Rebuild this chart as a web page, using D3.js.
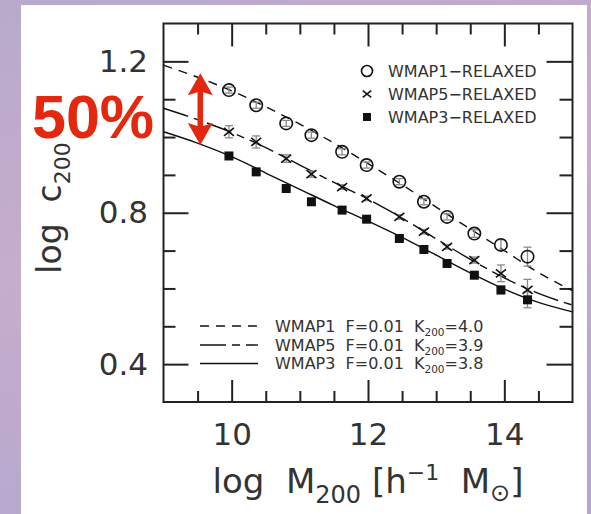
<!DOCTYPE html>
<html><head><meta charset="utf-8">
<script src="https://cdn.jsdelivr.net/npm/d3@7"></script>
<style>
html,body{margin:0;padding:0;background:#fff;}
svg{display:block;}
</style></head><body>
<div id="chart"></div>
<script>
// Concentration–mass relation of relaxed haloes in three cosmologies,
// simulation bins (markers) against the model curves.
const massBins  = [9.96, 10.36, 10.80, 11.17, 11.62, 11.98, 12.46, 12.82, 13.16, 13.56, 13.95, 14.34];
const wmap1Conc = [1.124, 1.084, 1.036, 1.005, 0.961, 0.926, 0.882, 0.829, 0.789, 0.745, 0.715, 0.684];
const wmap1Err  = [0.008, 0.008, 0.008, 0.008, 0.008, 0.008, 0.008, 0.008, 0.008, 0.010, 0.014, 0.025];
const wmap5Conc = [1.014, 0.987, 0.943, 0.902, 0.868, 0.838, 0.789, 0.750, 0.710, 0.675, 0.640, 0.596];
const wmap5Err  = [0.016, 0.016, 0.010, 0.008, 0.006, 0.006, 0.006, 0.006, 0.006, 0.008, 0.022, 0.028];
const wmap3Conc = [0.950, 0.908, 0.864, 0.829, 0.807, 0.783, 0.732, 0.703, 0.666, 0.635, 0.596, 0.570];
const wmap3Err  = [0.005, 0.005, 0.005, 0.005, 0.005, 0.005, 0.005, 0.005, 0.005, 0.006, 0.010, 0.021];

const modelMass  = [9.0, 9.5, 10.0, 10.5, 11.0, 11.5, 12.0, 12.5, 13.0, 13.5, 14.0, 14.5, 15.0];
const wmap1Model = [1.190, 1.158, 1.122, 1.080, 1.034, 0.984, 0.930, 0.874, 0.815, 0.757, 0.700, 0.642, 0.594];
const wmap5Model = [1.076, 1.046, 1.012, 0.972, 0.926, 0.880, 0.836, 0.786, 0.731, 0.677, 0.628, 0.587, 0.556];
const wmap3Model = [1.014, 0.984, 0.948, 0.905, 0.862, 0.819, 0.778, 0.735, 0.688, 0.641, 0.598, 0.563, 0.538];

const seriesNames = ["WMAP1\u2212RELAXED", "WMAP5\u2212RELAXED", "WMAP3\u2212RELAXED"];
const modelNames  = ["WMAP1", "WMAP5", "WMAP3"];
const modelF      = ["0.01", "0.01", "0.01"];
const modelK      = ["4.0", "3.9", "3.8"];

const xMajorTicks = [10, 12, 14];
const xMinorTicks = [9.5, 10.5, 11, 11.5, 12.5, 13, 13.5, 14.5];
const yMajorTicks = [0.4, 0.8, 1.2];
const yMinorTicks = [0.5, 0.6, 0.7, 0.9, 1.0, 1.1];
const spreadLabel = "50%";

const W = 591, H = 514;
const plot = {left: 163.5, right: 572.5, top: 23.5, bottom: 402};
const FONT = "'DejaVu Sans', Verdana, sans-serif";
const INK = "#333";

const svg = d3.select("#chart").append("svg")
  .attr("width", W).attr("height", H)
  .attr("viewBox", `0 0 ${W} ${H}`);

// slide backdrop and white panel
const defs = svg.append("defs");
const grad = defs.append("linearGradient").attr("id", "bg")
  .attr("x1", 0).attr("y1", 0).attr("x2", 0.3).attr("y2", 1);
grad.append("stop").attr("offset", 0).attr("stop-color", "#b8aacb");
grad.append("stop").attr("offset", 0.5).attr("stop-color", "#c6adcc");
grad.append("stop").attr("offset", 1).attr("stop-color", "#b5a8cf");
svg.append("rect").attr("width", W).attr("height", H).attr("fill", "url(#bg)");
svg.append("rect").attr("x", 21).attr("y", 5).attr("width", 566).attr("height", H - 5).attr("fill", "#fff");

const x = d3.scaleLinear().domain([9, 15]).range([plot.left, plot.right]);
const y = d3.scaleLinear().domain([0.3, 1.3]).range([plot.bottom, plot.top]);

// axes: ticks point inward on all four sides
function styleAxis(g) {
  g.select(".domain").remove();
  g.selectAll(".tick line").attr("stroke", "#222").attr("stroke-width", 2);
  g.selectAll(".tick text").attr("fill", INK).style("font-family", FONT).style("font-size", "31px");
}
const axes = svg.append("g");
axes.append("g").attr("transform", `translate(0,${plot.bottom})`)
  .call(d3.axisBottom(x).tickValues(xMajorTicks).tickSize(-22).tickPadding(21).tickFormat(d3.format("d"))).call(styleAxis);
axes.append("g").attr("transform", `translate(0,${plot.bottom})`)
  .call(d3.axisBottom(x).tickValues(xMinorTicks).tickSize(-11).tickFormat("")).call(styleAxis);
axes.append("g").attr("transform", `translate(0,${plot.top})`)
  .call(d3.axisTop(x).tickValues(xMajorTicks).tickSize(-23).tickFormat("")).call(styleAxis);
axes.append("g").attr("transform", `translate(0,${plot.top})`)
  .call(d3.axisTop(x).tickValues(xMinorTicks).tickSize(-11).tickFormat("")).call(styleAxis);
axes.append("g").attr("transform", `translate(${plot.left},0)`)
  .call(d3.axisLeft(y).tickValues(yMajorTicks).tickSize(-25).tickPadding(15.5).tickFormat(d3.format(".1f"))).call(styleAxis);
axes.append("g").attr("transform", `translate(${plot.left},0)`)
  .call(d3.axisLeft(y).tickValues(yMinorTicks).tickSize(-12).tickFormat("")).call(styleAxis);
axes.append("g").attr("transform", `translate(${plot.right},0)`)
  .call(d3.axisRight(y).tickValues(yMajorTicks).tickSize(-26).tickFormat("")).call(styleAxis);
axes.append("g").attr("transform", `translate(${plot.right},0)`)
  .call(d3.axisRight(y).tickValues(yMinorTicks).tickSize(-13).tickFormat("")).call(styleAxis);

svg.append("rect")
  .attr("x", plot.left).attr("y", plot.top)
  .attr("width", plot.right - plot.left).attr("height", plot.bottom - plot.top)
  .attr("fill", "none").attr("stroke", "#222").attr("stroke-width", 2);

// model curves
defs.append("clipPath").attr("id", "clip").append("rect")
  .attr("x", plot.left).attr("y", plot.top)
  .attr("width", plot.right - plot.left).attr("height", plot.bottom - plot.top);
const dashes = ["9,7", "26,6,8,6", null];
const line = d3.line().x(d => x(d[0])).y(d => y(d[1])).curve(d3.curveMonotoneX);
const models = [wmap1Model, wmap5Model, wmap3Model];
const curves = svg.append("g").attr("clip-path", "url(#clip)");
models.forEach((m, i) => {
  curves.append("path")
    .datum(modelMass.map((mm, j) => [mm, m[j]]))
    .attr("d", line)
    .attr("fill", "none").attr("stroke", "#111").attr("stroke-width", 1.4)
    .attr("stroke-dasharray", dashes[i]);
});

// error bars
const errColor = "#8a8a8a";
function errorBars(vals, errs) {
  const g = svg.append("g").attr("stroke", errColor).attr("stroke-width", 1.3);
  massBins.forEach((m, i) => {
    const cx = x(m), y0 = y(vals[i] - errs[i]), y1 = y(vals[i] + errs[i]);
    g.append("line").attr("x1", cx).attr("x2", cx).attr("y1", y0).attr("y2", y1);
    g.append("line").attr("x1", cx - 4).attr("x2", cx + 4).attr("y1", y0).attr("y2", y0);
    g.append("line").attr("x1", cx - 4).attr("x2", cx + 4).attr("y1", y1).attr("y2", y1);
  });
}
errorBars(wmap1Conc, wmap1Err);
errorBars(wmap5Conc, wmap5Err);
errorBars(wmap3Conc, wmap3Err);

// marker shapes
function circleMark(g, cx, cy, r) {
  g.append("circle").attr("cx", cx).attr("cy", cy).attr("r", r)
    .attr("fill", "none").attr("stroke", "#111").attr("stroke-width", 1.6);
}
function crossMark(g, cx, cy, s) {
  g.append("path")
    .attr("d", `M${cx - s},${cy - s * 0.8}L${cx + s},${cy + s * 0.8}M${cx - s},${cy + s * 0.8}L${cx + s},${cy - s * 0.8}`)
    .attr("stroke", "#111").attr("stroke-width", 1.6);
}
function squareMark(g, cx, cy, s) {
  g.append("rect").attr("x", cx - s / 2).attr("y", cy - s / 2).attr("width", s).attr("height", s).attr("fill", "#111");
}
const marks = svg.append("g");
massBins.forEach((m, i) => circleMark(marks, x(m), y(wmap1Conc[i]), 6.2));
massBins.forEach((m, i) => crossMark(marks, x(m), y(wmap5Conc[i]), 5));
massBins.forEach((m, i) => squareMark(marks, x(m), y(wmap3Conc[i]), 9));

// marker legend
const legTop = svg.append("g").style("font-family", FONT).style("font-size", "16px").attr("fill", INK);
const legRows = [71, 94, 117];
circleMark(legTop, 367, legRows[0], 5.5);
crossMark(legTop, 367, legRows[1], 4.2);
squareMark(legTop, 367, legRows[2], 8);
seriesNames.forEach((s, i) => legTop.append("text").attr("x", 388).attr("y", legRows[i] + 6).text(s));

// model legend
const legBot = svg.append("g").style("font-family", FONT).style("font-size", "16px").attr("fill", INK);
const modelRows = [326, 345, 363.5];
modelNames.forEach((n, i) => {
  legBot.append("line").attr("x1", 200).attr("x2", 258).attr("y1", modelRows[i]).attr("y2", modelRows[i])
    .attr("stroke", "#111").attr("stroke-width", 1.4).attr("stroke-dasharray", dashes[i]);
  const t = legBot.append("text").attr("x", 275).attr("y", modelRows[i] + 5.8).attr("xml:space", "preserve");
  t.append("tspan").text(`${n}  F=${modelF[i]}  K`);
  t.append("tspan").attr("dy", 4).style("font-size", "10.5px").text("200");
  t.append("tspan").attr("dy", -4).text(`=${modelK[i]}`);
});

// axis titles
const xt = svg.append("text").attr("x", 368).attr("y", 493).attr("text-anchor", "middle")
  .style("font-family", FONT).style("font-size", "34px").attr("fill", INK).attr("xml:space", "preserve");
xt.append("tspan").text("log  M");
xt.append("tspan").attr("dy", 10).style("font-size", "24px").text("200");
xt.append("tspan").attr("dy", -10).text(" [h");
xt.append("tspan").attr("dy", -13).style("font-size", "22px").text("\u22121");
xt.append("tspan").attr("dy", 13).text("  M");
xt.append("tspan").attr("dy", 8).style("font-size", "24px").text("\u2299");
xt.append("tspan").attr("dy", -8).text("]");

const yt = svg.append("text").attr("transform", "translate(61,208) rotate(-90)").attr("text-anchor", "middle")
  .style("font-family", FONT).style("font-size", "33px").attr("fill", INK).attr("xml:space", "preserve");
yt.append("tspan").text("log  c");
yt.append("tspan").attr("dy", 9).style("font-size", "22px").text("200");

// spread annotation
const red = "#e3280f";
svg.append("text").attr("x", 32).attr("y", 138)
  .style("font-family", "'Liberation Sans', Arial, sans-serif").style("font-weight", "bold").style("font-size", "61px")
  .attr("fill", red).text(spreadLabel);
const ax = x(9.54), aTop = y(wmap1Model[1]) - 4, aBot = y(wmap3Model[1]) + 2;
const hl = 22, hw = 12.5, sw = 2.8;
svg.append("path")
  .attr("d", `M${ax},${aTop}L${ax + hw},${aTop + hl}L${ax + sw},${aTop + hl - 3}L${ax + sw},${aBot - hl + 3}L${ax + hw},${aBot - hl}L${ax},${aBot}L${ax - hw},${aBot - hl}L${ax - sw},${aBot - hl + 3}L${ax - sw},${aTop + hl - 3}L${ax - hw},${aTop + hl}Z`)
  .attr("fill", red);
</script>
</body></html>
